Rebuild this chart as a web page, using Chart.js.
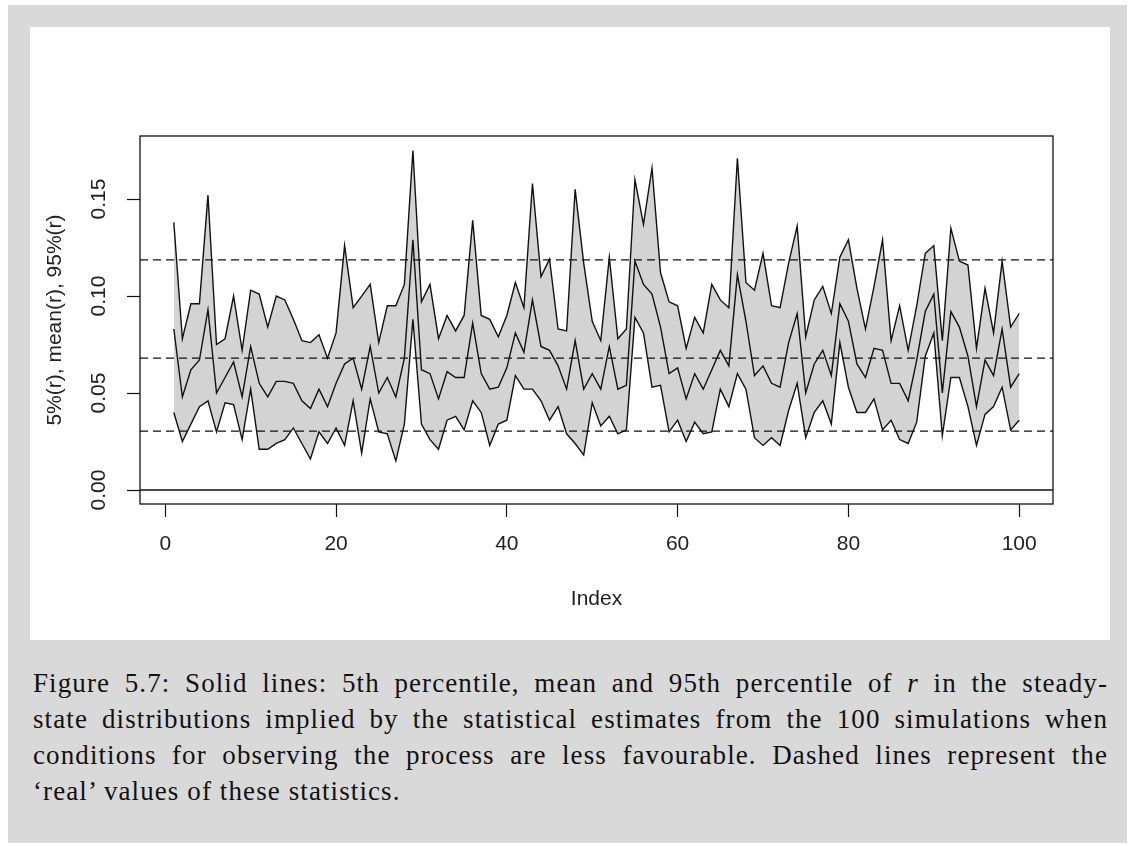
<!DOCTYPE html>
<html lang="en">
<head>
<meta charset="UTF-8">
<title>Figure 5.7</title>
<script src="https://cdn.jsdelivr.net/npm/chart.js@4"></script>
<style>
    body { margin: 0; background: #ffffff; }
    .page { position: absolute; left: 8px; top: 5px; width: 1119px; height: 838px; background: #d9d9d9; }
    .panel { position: absolute; left: 22px; top: 22px; width: 1080px; height: 613px; background: #ffffff; }
    .caption {
        position: absolute; left: 25px; top: 660px; width: 1075px;
        font-family: "Liberation Serif", "DejaVu Serif", serif; font-size: 27px; letter-spacing: 1.1px;
        line-height: 36px; color: #111;
    }
    .caption div { text-align: justify; text-align-last: justify; white-space: nowrap; }
    .caption div.last { text-align-last: left; }
</style>
</head>
<body>
<div class="page">
    <div class="panel"><canvas id="chart" width="1080" height="613"></canvas></div>
    <div class="caption">
        <div>Figure 5.7: Solid lines: 5th percentile, mean and 95th percentile of <i>r</i> in the steady-</div>
        <div>state distributions implied by the statistical estimates from the 100 simulations when</div>
        <div>conditions for observing the process are less favourable. Dashed lines represent the</div>
        <div class="last">‘real’ values of these statistics.</div>
    </div>
</div>
<script>
// simulation index 1..100
const index = Array.from({ length: 100 }, (_, k) => k + 1);

// 95th percentile of r
const p95 = [
    0.138, 0.078, 0.096, 0.096, 0.152, 0.075, 0.078, 0.100, 0.072, 0.103,
    0.101, 0.084, 0.100, 0.098, 0.088, 0.077, 0.076, 0.080, 0.068, 0.081,
    0.126, 0.094, 0.100, 0.106, 0.076, 0.095, 0.095, 0.106, 0.175, 0.097,
    0.106, 0.078, 0.090, 0.082, 0.090, 0.139, 0.090, 0.088, 0.079, 0.090,
    0.107, 0.094, 0.158, 0.110, 0.119, 0.083, 0.082, 0.155, 0.117, 0.087,
    0.077, 0.120, 0.078, 0.083, 0.160, 0.137, 0.166, 0.112, 0.097, 0.095,
    0.073, 0.089, 0.081, 0.106, 0.098, 0.094, 0.171, 0.107, 0.103, 0.122,
    0.095, 0.094, 0.117, 0.136, 0.079, 0.098, 0.105, 0.091, 0.120, 0.129,
    0.104, 0.083, 0.105, 0.129, 0.077, 0.095, 0.072, 0.095, 0.122, 0.126,
    0.077, 0.135, 0.118, 0.116, 0.073, 0.104, 0.081, 0.118, 0.084, 0.091
];

// mean of r
const meanR = [
    0.083, 0.048, 0.062, 0.067, 0.093, 0.050, 0.058, 0.066, 0.048, 0.074,
    0.055, 0.048, 0.056, 0.056, 0.055, 0.046, 0.042, 0.052, 0.043, 0.055,
    0.065, 0.068, 0.052, 0.074, 0.050, 0.058, 0.048, 0.068, 0.129, 0.062,
    0.060, 0.047, 0.061, 0.058, 0.058, 0.086, 0.060, 0.052, 0.053, 0.063,
    0.081, 0.071, 0.098, 0.074, 0.072, 0.064, 0.052, 0.077, 0.052, 0.060,
    0.052, 0.074, 0.052, 0.054, 0.118, 0.106, 0.101, 0.084, 0.060, 0.063,
    0.047, 0.060, 0.052, 0.062, 0.072, 0.064, 0.111, 0.087, 0.059, 0.064,
    0.055, 0.053, 0.076, 0.091, 0.050, 0.065, 0.072, 0.059, 0.096, 0.087,
    0.065, 0.058, 0.073, 0.072, 0.055, 0.055, 0.046, 0.067, 0.092, 0.101,
    0.050, 0.092, 0.084, 0.069, 0.043, 0.067, 0.059, 0.083, 0.053, 0.060
];

// 5th percentile of r
const p05 = [
    0.040, 0.025, 0.034, 0.043, 0.046, 0.030, 0.045, 0.044, 0.026, 0.052,
    0.021, 0.021, 0.024, 0.026, 0.032, 0.024, 0.016, 0.030, 0.024, 0.032,
    0.023, 0.046, 0.019, 0.047, 0.030, 0.029, 0.015, 0.034, 0.088, 0.034,
    0.026, 0.021, 0.036, 0.038, 0.031, 0.046, 0.040, 0.023, 0.034, 0.036,
    0.059, 0.052, 0.052, 0.046, 0.036, 0.043, 0.029, 0.024, 0.018, 0.045,
    0.033, 0.038, 0.029, 0.031, 0.089, 0.081, 0.053, 0.054, 0.030, 0.036,
    0.025, 0.035, 0.029, 0.030, 0.052, 0.043, 0.060, 0.052, 0.027, 0.023,
    0.027, 0.023, 0.041, 0.055, 0.027, 0.040, 0.046, 0.034, 0.076, 0.053,
    0.040, 0.040, 0.047, 0.031, 0.036, 0.026, 0.024, 0.035, 0.069, 0.081,
    0.028, 0.058, 0.058, 0.043, 0.023, 0.039, 0.043, 0.053, 0.031, 0.036
];

// 'real' values (dashed lines)
const realValues = [0.1186, 0.068, 0.0304];

const xTicks = [0, 20, 40, 60, 80, 100];
const yTicks = [0, 0.05, 0.10, 0.15];

const xMin = -2.96, xMax = 103.96;
const yMin = -0.0072, yMax = 0.1825;

const ink = '#111111';
const pts = arr => arr.map((v, k) => ({ x: index[k], y: v }));
const hline = v => [{ x: xMin, y: v }, { x: xMax, y: v }];

const lineStyle = { borderColor: ink, borderWidth: 1.4, pointRadius: 0, tension: 0 };

// frame around the plot region
const boxPlugin = {
    id: 'box',
    afterDatasetsDraw(chart) {
        const { ctx, chartArea: a } = chart;
        ctx.save();
        ctx.strokeStyle = ink;
        ctx.lineWidth = 1.3;
        ctx.strokeRect(a.left, a.top, a.right - a.left, a.bottom - a.top);
        ctx.restore();
    }
};

Chart.defaults.font.family = '"Liberation Sans", Arial, sans-serif';
Chart.defaults.font.size = 21;
Chart.defaults.color = '#222';

new Chart(document.getElementById('chart'), {
    type: 'line',
    data: {
        datasets: [
            Object.assign({ data: pts(p95), fill: '+1', backgroundColor: '#d3d3d3' }, lineStyle),
            Object.assign({ data: pts(p05), fill: false }, lineStyle),
            Object.assign({ data: pts(meanR), fill: false }, lineStyle),
            Object.assign({ data: hline(0), fill: false }, lineStyle),
            ...realValues.map(v => Object.assign({ data: hline(v), fill: false }, lineStyle, { borderWidth: 1.3, borderDash: [8, 5] }))
        ]
    },
    options: {
        responsive: false,
        animation: false,
        devicePixelRatio: 1,
        layout: { padding: { left: 0, right: 57, top: 109, bottom: 0 } },
        plugins: {
            legend: { display: false },
            tooltip: { enabled: false },
            filler: { drawTime: 'beforeDatasetsDraw' }
        },
        scales: {
            x: {
                type: 'linear',
                min: xMin,
                max: xMax,
                afterBuildTicks: s => { s.ticks = xTicks.map(v => ({ value: v })); },
                afterFit: s => { s.height = 136; },
                ticks: { padding: 15, autoSkip: false, maxRotation: 0, callback: v => String(v) },
                grid: { drawOnChartArea: false, tickLength: 13, tickColor: ink, tickWidth: 1.2 },
                border: { display: false },
                title: { display: true, text: 'Index', padding: { top: 0, bottom: 28 } }
            },
            y: {
                type: 'linear',
                min: yMin,
                max: yMax,
                afterBuildTicks: s => { s.ticks = yTicks.map(v => ({ value: v })); },
                afterFit: s => { s.width = 110; },
                ticks: { minRotation: 90, maxRotation: 90, crossAlign: 'center', padding: 7, autoSkip: false, callback: v => v.toFixed(2) },
                grid: { drawOnChartArea: false, tickLength: 13, tickColor: ink, tickWidth: 1.2 },
                border: { display: false },
                title: { display: true, text: '5%(r), mean(r), 95%(r)', padding: { top: 13, bottom: 0 } }
            }
        }
    },
    plugins: [boxPlugin]
});
</script>
</body>
</html>
